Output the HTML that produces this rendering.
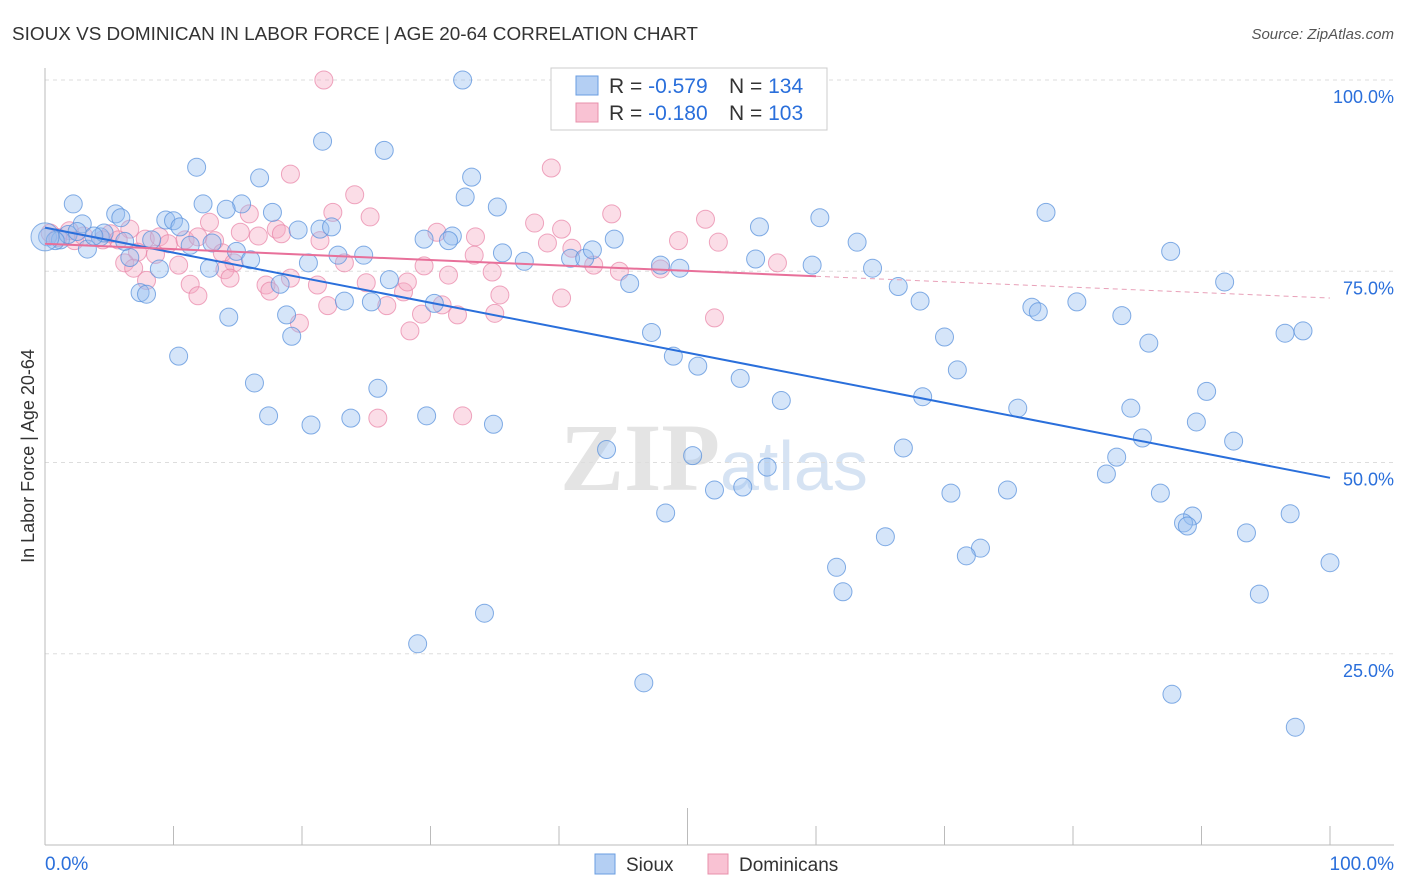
<!DOCTYPE html>
<html><head><meta charset="utf-8"><style>
body{margin:0;background:#fff;font-family:"Liberation Sans",sans-serif;}
#wrap{position:relative;width:1406px;height:892px;overflow:hidden;}
</style></head><body>
<div id="wrap">
<svg id="svg" width="1406" height="892" xmlns="http://www.w3.org/2000/svg">
<text x="12" y="40" font-size="18" fill="#333" textLength="686" lengthAdjust="spacingAndGlyphs">SIOUX VS DOMINICAN IN LABOR FORCE | AGE 20-64 CORRELATION CHART</text>
<text x="1394" y="39" font-size="15" fill="#555" font-style="italic" text-anchor="end">Source: ZipAtlas.com</text>
<text x="720" y="490" font-size="96" fill="#e4e4e4" text-anchor="end" font-family="Liberation Serif,serif" font-weight="bold">ZIP</text>
<text x="720" y="490" font-size="70" fill="#d6e3f3">atlas</text>
<g id="grid"></g><g id="pts"></g><g id="lines"></g>
<text x="34" y="456" font-size="18" fill="#333" text-anchor="middle" transform="rotate(-90 34 456)">In Labor Force | Age 20-64</text>
<rect x="551" y="68" width="276" height="62" fill="#fff" stroke="#ccc"/>
<rect x="576" y="76" width="22" height="19" fill="#b4cff3" stroke="#6a9de0"/>
<rect x="576" y="103" width="22" height="19" fill="#f9c2d3" stroke="#e890ab"/>
<text x="609" y="93" font-size="21" fill="#333">R = <tspan fill="#2a6fdb">-0.579</tspan><tspan x="729">N = </tspan><tspan fill="#2a6fdb">134</tspan></text>
<text x="609" y="120" font-size="21" fill="#333">R = <tspan fill="#2a6fdb">-0.180</tspan><tspan x="729">N = </tspan><tspan fill="#2a6fdb">103</tspan></text>
<rect x="595" y="854" width="20" height="20" fill="#b4cff3" stroke="#6a9de0"/>
<text x="626" y="871" font-size="19" fill="#333">Sioux</text>
<rect x="708" y="854" width="20" height="20" fill="#f9c2d3" stroke="#e890ab"/>
<text x="739" y="871" font-size="19" fill="#333">Dominicans</text>
<text x="45" y="870" font-size="19" fill="#2a6fdb">0.0%</text>
<text x="1394" y="870" font-size="19" fill="#2a6fdb" text-anchor="end">100.0%</text>
</svg></div>
<script>
const yTicks=[100,75,50,25];
const yTickLabels=["100.0%","75.0%","50.0%","25.0%"];
const siouxX=[32.5,21.6,26.4,11.8,16.7,33.2,2.2,12.3,15.3,32.7,35.2,5.5,5.9,9.4,10.0,14.1,17.7,60.3,77.9,2.9,10.5,19.7,21.4,22.3,55.6,0.2,1.2,3.3,4.3,4.6,8.3,11.3,13.0,14.9,16.0,22.8,24.8,29.5,31.7,31.4,35.6,37.3,40.9,42.0,42.6,44.3,47.9,49.4,55.3,59.7,63.2,64.4,87.6,6.6,8.9,12.8,20.5,26.8,18.3,45.5,66.4,91.8,7.4,7.9,23.3,25.4,30.3,68.1,76.8,77.3,80.3,83.8,14.3,18.8,19.2,47.2,70.0,85.9,96.5,97.9,10.4,48.9,50.8,71.0,54.1,16.3,25.9,90.4,57.3,68.3,75.7,84.5,17.4,20.7,23.8,29.7,34.9,89.6,85.4,92.5,43.7,66.8,50.4,83.4,56.2,82.6,52.1,54.3,70.5,74.9,86.8,48.3,96.9,89.3,88.6,88.9,65.4,93.5,72.8,71.7,61.6,100,62.1,94.5,34.2,29.0,46.6,87.7,97.3,1.8,3.8,6.2,2.5,0.8];
const siouxY=[100,92.0,90.8,88.6,87.2,87.3,83.8,83.8,83.8,84.7,83.4,82.5,82.0,81.7,81.6,83.1,82.7,82.0,82.7,81.2,80.8,80.4,80.5,80.8,80.8,79.5,79.1,77.9,79.5,80.0,79.1,78.4,78.7,77.6,76.5,77.1,77.1,79.2,79.6,79.0,77.4,76.3,76.7,76.7,77.8,79.2,75.8,75.4,76.6,75.8,78.8,75.4,77.6,76.8,75.3,75.4,76.1,73.9,73.3,73.4,73.0,73.6,72.2,72.0,71.1,71.0,70.8,71.1,70.3,69.7,71.0,69.2,69.0,69.3,66.5,67.0,66.4,65.6,66.9,67.2,63.9,63.9,62.6,62.1,61.0,60.4,59.7,59.3,58.1,58.6,57.1,57.1,56.1,54.9,55.8,56.1,55.0,55.3,53.2,52.8,51.7,51.9,50.9,50.7,49.4,48.5,46.4,46.8,46.0,46.4,46.0,43.4,43.3,43.0,42.1,41.7,40.3,40.8,38.8,37.8,36.3,36.9,33.1,32.8,30.3,26.3,21.2,19.7,15.4,79.8,79.6,78.9,80.2,79.0];
const domX=[21.7,39.4,19.1,24.1,22.4,44.1,25.3,51.4,15.9,12.8,38.1,40.2,6.6,0.4,1.9,2.3,5.1,5.7,4.5,7.8,8.9,9.6,10.9,11.9,13.2,15.2,16.6,18.0,18.4,21.4,30.5,33.5,39.1,41.0,49.3,52.4,7.2,8.6,13.8,6.2,6.9,10.4,14.7,14.0,23.3,29.5,33.4,34.8,42.7,44.7,47.9,57.0,7.9,11.3,11.9,14.4,17.2,17.5,19.1,21.2,25.0,27.9,28.2,31.4,35.4,40.2,22.0,26.6,29.3,30.9,32.1,35.0,19.8,28.4,52.1,25.9,32.5,1.0,3.0];
const domY=[100,88.5,87.7,85.0,82.7,82.5,82.1,81.8,82.5,81.4,81.3,80.5,80.5,80.0,80.3,79.0,79.9,79.1,79.1,79.2,79.5,78.6,79.1,79.5,79.0,80.1,79.6,80.5,79.9,79.0,80.1,79.5,78.7,78.0,79.0,78.8,77.5,77.2,77.4,76.1,75.4,75.8,76.1,75.2,76.1,75.7,77.1,74.9,75.8,75.0,75.3,76.1,73.8,73.3,71.8,74.1,73.2,72.4,74.1,73.2,73.5,72.3,73.6,74.5,71.9,71.5,70.5,70.5,69.4,70.6,69.3,69.5,68.2,67.2,68.9,55.8,56.1,79.4,79.6];
const siouxFit=[80.7,48.0];
const domFit=[78.6,71.5];
const domSolidEnd=60;
const NS="http://www.w3.org/2000/svg";
const X=v=>45+v*12.85, Y=v=>845-v*7.65;
function mk(t,a,p){const e=document.createElementNS(NS,t);for(const k in a)e.setAttribute(k,a[k]);p.appendChild(e);return e;}
const grid=document.getElementById('grid'),pts=document.getElementById('pts'),lines=document.getElementById('lines'),svg=document.getElementById('svg');
yTicks.forEach((t,i)=>{
 const l=mk('line',{x1:45,x2:1394,y1:Y(t),y2:Y(t),stroke:'#ddd','stroke-dasharray':'4 4'},grid);
 
 
 const tx=mk('text',{x:1394,y:Y(t)+23,'font-size':18,fill:'#2a6fdb','text-anchor':'end'},svg);
 tx.textContent=yTickLabels[i];
 
 
});
const ax=mk('line',{x1:45,x2:1394,y1:845,y2:845,stroke:'#bbb'},grid);


const ay=mk('line',{x1:45,x2:45,y1:68,y2:845,stroke:'#bbb'},grid);


for(let i=0;i<=10;i++){
 const tk=mk('line',{x1:X(i*10),x2:X(i*10),y1:i==5?808:826,y2:845,stroke:'#bbb'},grid);
 
 
}
domX.forEach((x,i)=>{
 const c=mk('circle',{cx:X(x),cy:Y(domY[i]),r:9,fill:'rgba(246,170,195,0.4)',stroke:'rgba(232,130,165,0.7)','stroke-width':1},pts);
 
 
});
siouxX.forEach((x,i)=>{
 const c=mk('circle',{cx:X(x),cy:Y(siouxY[i]),r:9,fill:'rgba(150,190,240,0.4)',stroke:'rgba(90,145,220,0.75)','stroke-width':1},pts);
 
 
});
const big1=mk('circle',{cx:X(0),cy:Y(79.5),r:14,fill:'rgba(150,190,240,0.4)',stroke:'rgba(90,145,220,0.7)'},pts);


const sl=mk('line',{x1:X(0),y1:Y(siouxFit[0]),x2:X(100),y2:Y(siouxFit[1]),stroke:'#2a6fdb','stroke-width':2},lines);


const dAt=v=>domFit[0]+(domFit[1]-domFit[0])*v/100;
const dl=mk('line',{x1:X(0),y1:Y(domFit[0]),x2:X(domSolidEnd),y2:Y(dAt(domSolidEnd)),stroke:'#e8709a','stroke-width':2},lines);


const dd=mk('line',{x1:X(domSolidEnd),y1:Y(dAt(domSolidEnd)),x2:X(100),y2:Y(domFit[1]),stroke:'#e8a0b8','stroke-width':1,'stroke-dasharray':'5 4'},lines);


</script>
</body></html>
